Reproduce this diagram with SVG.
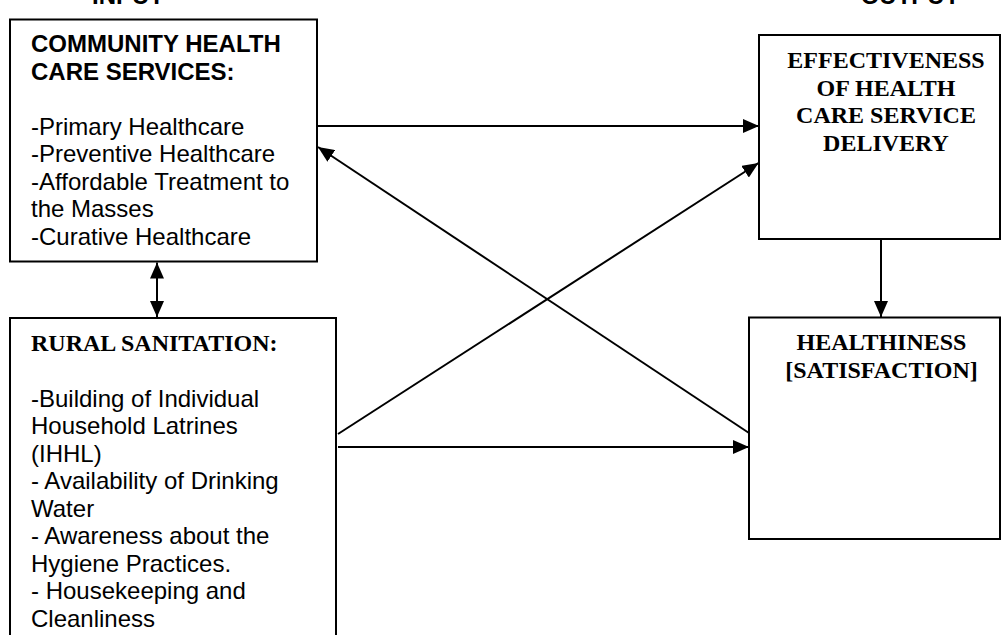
<svg xmlns="http://www.w3.org/2000/svg" width="1001" height="635" viewBox="0 0 1001 635">
<style>
.box{fill:#fff;stroke:#000;stroke-width:2}
.sans{font-family:"Liberation Sans",Arial,sans-serif;font-size:24px;fill:#000}
.serifb{font-family:"Liberation Serif","Times New Roman",serif;font-size:24px;font-weight:bold;fill:#000}
.b{font-weight:bold}
.conn{stroke:#000;stroke-width:2;fill:none}
</style>
<defs>
<marker id="ah" markerUnits="userSpaceOnUse" markerWidth="16" markerHeight="14" refX="16" refY="7" orient="auto-start-reverse" viewBox="0 0 16 14">
<path d="M0,0 L16,7 L0,14 z" fill="#000"/>
</marker>
</defs>
<text class="sans b" x="128" y="3.5" text-anchor="middle">INPUT</text>
<text class="sans b" x="910" y="3.5" text-anchor="middle">OUTPUT</text>
<g id="community">
<rect class="box" x="10" y="19.5" width="307" height="242"/>
<text class="sans b" x="31" y="52">COMMUNITY HEALTH</text>
<text class="sans b" x="31" y="79.5">CARE SERVICES:</text>
<text class="sans" x="31" y="134.5">-Primary Healthcare</text>
<text class="sans" x="31" y="162">-Preventive Healthcare</text>
<text class="sans" x="31" y="189.5">-Affordable Treatment to</text>
<text class="sans" x="31" y="217">the Masses</text>
<text class="sans" x="31" y="244.5">-Curative Healthcare</text>
</g>
<g id="rural">
<rect class="box" x="10" y="318" width="326" height="330"/>
<text class="serifb" x="31" y="351">RURAL SANITATION:</text>
<text class="sans" x="31" y="406.7">-Building of Individual</text>
<text class="sans" x="31" y="434.2">Household Latrines</text>
<text class="sans" x="31" y="461.7">(IHHL)</text>
<text class="sans" x="31" y="489.2">- Availability of Drinking</text>
<text class="sans" x="31" y="516.7">Water</text>
<text class="sans" x="31" y="544.2">- Awareness about the</text>
<text class="sans" x="31" y="571.7">Hygiene Practices.</text>
<text class="sans" x="31" y="599.2">- Housekeeping and</text>
<text class="sans" x="31" y="626.7">Cleanliness</text>
</g>
<g id="effectiveness">
<rect class="box" x="759" y="35" width="241" height="204"/>
<text class="serifb" x="886" y="68" text-anchor="middle">EFFECTIVENESS</text>
<text class="serifb" x="886" y="95.6" text-anchor="middle">OF HEALTH</text>
<text class="serifb" x="886" y="123.2" text-anchor="middle">CARE SERVICE</text>
<text class="serifb" x="886" y="150.8" text-anchor="middle">DELIVERY</text>
</g>
<g id="healthiness">
<rect class="box" x="749" y="317.5" width="251" height="221.5"/>
<text class="serifb" x="881.5" y="350" text-anchor="middle">HEALTHINESS</text>
<text class="serifb" x="881.5" y="377.6" text-anchor="middle">[SATISFACTION]</text>
</g>
<g id="connectors">
<line class="conn" x1="317" y1="126" x2="759" y2="126" marker-end="url(#ah)"/>
<line class="conn" x1="749" y1="433" x2="318" y2="147" marker-end="url(#ah)"/>
<line class="conn" x1="338" y1="434" x2="758.5" y2="163" marker-end="url(#ah)"/>
<line class="conn" x1="338" y1="447" x2="749" y2="447" marker-end="url(#ah)"/>
<line class="conn" x1="881" y1="239" x2="881" y2="317" marker-end="url(#ah)"/>
<line class="conn" x1="157" y1="262.5" x2="157" y2="317" marker-start="url(#ah)" marker-end="url(#ah)"/>
</g>
</svg>
